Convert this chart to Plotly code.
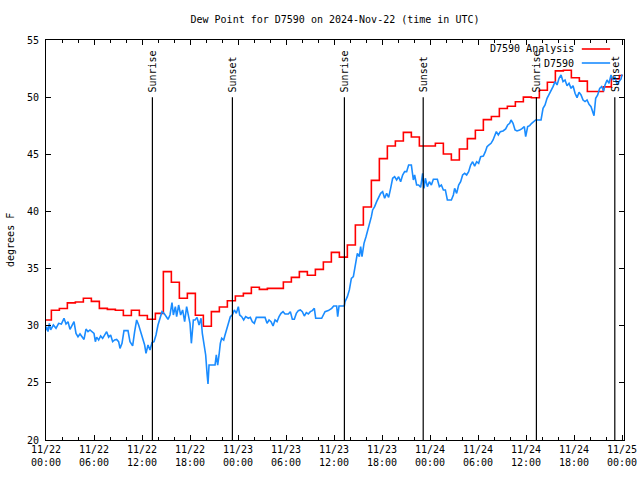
import pandas as pd
import plotly.graph_objects as go

START = pd.Timestamp("2024-11-22 00:00")

# ---- data ----
red_hours = [0.0] + [k + 0.67 for k in range(72)]
red_values = [30.5, 31.35, 31.5, 32.0, 32.07, 32.4, 32.13, 31.52, 31.43, 31.35,
              30.9, 31.35, 30.9, 30.56, 31.08, 34.73, 33.8, 32.4, 32.83, 30.91,
              29.95, 31.23, 31.64, 32.19, 32.6, 32.83, 33.36, 33.18, 33.27, 33.27,
              33.82, 34.23, 34.73, 34.41, 34.93, 35.57, 36.42, 36.0, 37.06, 38.81,
              40.39, 42.72, 44.62, 45.72, 46.16, 46.92, 46.51, 45.72, 45.72, 45.96,
              45.03, 44.5, 45.46, 46.37, 47.1, 48.03, 48.3, 49.0, 49.2, 49.6,
              50.0, 49.95, 50.6, 51.3, 52.3, 52.35, 51.7, 51.4, 50.5, 50.5,
              50.9, 51.6, 51.9]
red_end_hour = 72.1

blue_hours = [0.0, 0.08, 0.25, 0.42, 0.58, 0.92, 1.25, 1.58, 1.92, 2.25, 2.5, 2.75, 3.0, 3.25, 3.5,
              3.75, 4.0, 4.25, 4.5, 4.75, 5.0, 5.25, 5.5, 5.75, 6.0, 6.17, 6.33, 6.58, 6.83,
              7.08, 7.33, 7.58, 7.83, 8.08, 8.33, 8.58, 8.83, 9.08, 9.25, 9.5, 9.75, 10.25,
              10.5, 10.83, 11.08, 11.33, 11.58, 11.83, 12.08, 12.33, 12.5, 12.75, 13.0, 13.25,
              13.5, 13.75, 14.0, 14.25, 14.5, 14.75, 15.0, 15.25, 15.5, 15.75, 15.92, 16.17,
              16.33, 16.58, 16.83, 17.08, 17.33, 17.58, 17.83, 18.0, 18.17, 18.42, 18.63,
              18.88, 19.13, 19.38, 19.54, 19.79, 19.96, 20.13, 20.25, 20.38, 20.71, 21.13,
              21.29, 21.46, 21.63, 21.79, 21.96, 22.21, 22.38, 22.63, 22.79, 23.04, 23.29,
              23.54, 23.79, 24.04, 24.21, 24.46, 24.71, 24.96, 25.29, 25.54, 25.79, 26.04,
              26.29, 26.96, 27.38, 27.63, 27.88, 28.13, 28.38, 28.63, 28.88, 29.13, 29.38,
              29.63, 29.88, 30.29, 30.54, 30.79, 31.04, 31.29, 31.54, 31.79, 32.04, 32.29,
              32.54, 32.79, 33.04, 33.29, 33.54, 33.71, 34.04, 34.46, 34.88, 35.29, 35.71,
              35.96, 36.33, 36.46, 36.63, 36.96, 37.29, 37.38, 37.67, 37.92, 38.17, 38.42,
              38.67, 38.92, 39.17, 39.33, 39.5, 39.75, 40.0, 40.25, 40.42, 40.67, 40.83,
              41.08, 41.33, 41.58, 41.83, 42.08, 42.33, 42.58, 42.83, 43.08, 43.33, 43.58,
              43.83, 44.08, 44.33, 44.58, 44.83, 45.08, 45.33, 45.67, 45.92, 46.08, 46.33,
              46.58, 46.83, 47.08, 47.25, 47.42, 47.67, 47.92, 48.17, 48.42, 48.92, 49.17,
              49.42, 49.67, 49.92, 50.17, 50.67, 50.92, 51.08, 51.33, 51.58, 51.83, 52.08,
              52.33, 52.58, 52.83, 53.08, 53.33, 53.58, 53.83, 54.08, 54.33, 54.67, 54.92,
              55.13, 55.38, 55.63, 55.88, 56.13, 56.29, 56.54, 56.79, 57.13, 57.46, 57.71,
              57.96, 58.13, 58.38, 58.63, 58.88, 59.21, 59.46, 59.79, 59.96, 60.21, 60.46,
              60.71, 60.96, 61.21, 61.54, 61.88, 62.13, 62.38, 62.63, 62.88, 63.13, 63.38,
              63.63, 63.88, 64.13, 64.38, 64.63, 64.88, 65.13, 65.38, 65.63, 65.88, 66.13,
              66.38, 66.63, 66.88, 67.13, 67.38, 67.63, 67.88, 68.13, 68.29, 68.5, 68.71,
              68.96, 69.21, 69.46, 69.71, 69.88, 70.13, 70.38, 70.63, 70.88, 71.13, 71.38,
              71.63, 71.88, 72.0]
blue_values = [29.6, 29.92, 29.48, 30.21, 29.63, 30.06, 29.77, 30.21, 30.15, 30.65, 30.15, 30.35, 29.68, 30.06, 30.35,
               29.33, 29.04, 29.28, 29.0, 28.8, 29.71, 29.48, 29.63, 29.48, 29.33, 28.6, 29.0, 28.75, 29.1,
               28.9, 29.19, 29.48, 29.0, 29.19, 28.6, 28.75, 28.8, 28.6, 28.02, 28.46, 29.57, 29.57,
               28.6, 28.23, 29.48, 30.5, 30.06, 29.48, 28.75, 28.31, 27.58, 28.31, 27.87, 28.52,
               28.6, 29.19, 30.06, 30.65, 31.23, 31.08, 30.79, 30.56, 30.94, 32.02, 30.94, 31.67,
               30.79, 31.81, 30.94, 31.38, 30.35, 31.67, 30.79, 30.21, 28.46, 30.5, 30.5,
               30.73, 30.06, 30.65, 29.33, 28.02, 27.44, 25.83, 24.9, 26.56, 26.56, 26.56,
               27.44, 26.56, 27.44, 28.46, 28.9, 28.75, 29.19, 29.77, 30.06, 30.79, 30.94,
               31.38, 31.08, 31.67, 30.94, 30.79, 30.5, 30.79, 30.65, 30.73, 30.35, 30.21,
               30.73, 30.73, 30.73, 30.21, 30.5, 30.35, 29.98, 30.5, 30.35, 30.79, 31.08,
               31.23, 31.03, 31.03, 31.23, 30.56, 30.56, 31.08, 31.32, 31.38, 31.23, 30.85,
               31.14, 31.03, 31.23, 31.32, 31.52, 30.65, 30.65, 30.65, 31.23, 31.32, 31.52,
               31.73, 31.73, 30.79, 31.73, 31.73, 31.73, 32.1, 32.54, 33.13, 34.14, 34.29,
               35.46, 36.33, 36.04, 36.92, 36.04, 37.21, 37.79, 38.37, 38.96, 39.54, 40.13,
               40.42, 40.86, 41.29, 41.58, 41.73, 41.15, 41.58, 41.23, 42.02, 42.9, 43.04,
               42.75, 43.04, 42.6, 43.19, 43.48, 43.48, 44.06, 44.06, 42.75, 43.19, 42.31,
               42.31, 42.11, 43.33, 42.02, 42.9, 42.17, 42.6, 42.31, 42.81, 42.81, 42.17,
               42.31, 41.88, 41.88, 41.0, 41.0, 41.44, 42.02, 41.58, 42.31, 42.6, 43.19,
               43.33, 43.19, 43.48, 44.06, 44.35, 43.97, 44.35, 44.21, 44.79, 44.85, 45.23,
               45.67, 45.82, 45.96, 46.25, 46.69, 46.98, 46.69, 46.98, 47.04, 47.22, 47.57,
               47.71, 48.0, 47.71, 47.13, 47.04, 47.13, 47.22, 47.42, 46.54, 47.42, 47.51,
               47.71, 47.86, 48.0, 48.0, 48.0, 49.02, 49.32, 49.9, 50.25, 50.48, 50.92,
               51.36, 51.07, 51.65, 51.94, 51.36, 51.5, 51.0, 51.21, 50.77, 51.0, 50.34,
               49.96, 50.42, 50.19, 49.75, 49.61, 49.75, 49.37, 49.17, 48.88, 48.38, 49.9,
               50.19, 50.77, 50.92, 50.54, 51.07, 51.5, 51.21, 51.94, 51.5, 51.79, 51.07,
               51.36, 51.6, 52.0]

sunrise_hours = [13.3, 37.3, 61.3]
sunset_hours = [23.3, 47.15, 71.1]

tick_hours = list(range(0, 73, 6))
tick_text = ["11/22<br>00:00", "11/22<br>06:00", "11/22<br>12:00", "11/22<br>18:00",
             "11/23<br>00:00", "11/23<br>06:00", "11/23<br>12:00", "11/23<br>18:00",
             "11/24<br>00:00", "11/24<br>06:00", "11/24<br>12:00", "11/24<br>18:00",
             "11/25<br>00:00"]
y_ticks = [20, 25, 30, 35, 40, 45, 50, 55]

TITLE = "Dew Point for D7590 on 2024-Nov-22 (time in UTC)"
RED = "#ff0000"
BLUE = "#1a8cff"
FONT = "DejaVu Sans Mono"
FS = 10


def t(h):
    return START + pd.to_timedelta(h, unit="h")


red_x = [t(h) for h in red_hours] + [t(red_end_hour)]
red_y = red_values + [red_values[-1]]
blue_x = [t(h) for h in blue_hours]

fig = go.Figure()
fig.add_trace(go.Scatter(x=red_x, y=red_y, mode="lines", line=dict(color=RED, width=1.6, shape="hv"),
                         name="D7590 Analysis", showlegend=False))
fig.add_trace(go.Scatter(x=blue_x, y=blue_values, mode="lines", line=dict(color=BLUE, width=1.6),
                         name="D7590", showlegend=False))

shapes = []
annotations = []
for label, hours in (("Sunrise", sunrise_hours), ("Sunset", sunset_hours)):
    for h in hours:
        shapes.append(dict(type="line", xref="x", yref="y", x0=t(h), x1=t(h), y0=20, y1=50,
                           line=dict(color="black", width=1.2)))
        annotations.append(dict(x=t(h), y=50, xref="x", yref="y", text=label, textangle=-90,
                                showarrow=False, xanchor="center", yanchor="bottom", yshift=3,
                                font=dict(family=FONT, size=FS, color="black")))

# legend (text left of sample, as in the reference)
for name, color, ypos in (("D7590 Analysis", RED, 0.9775), ("D7590", BLUE, 0.9425)):
    annotations.append(dict(x=0.917, y=ypos, xref="paper", yref="paper", text=name, showarrow=False,
                            xanchor="right", yanchor="middle",
                            font=dict(family=FONT, size=FS, color="black")))
    shapes.append(dict(type="line", xref="paper", yref="paper", x0=0.927, x1=0.976, y0=ypos, y1=ypos,
                       line=dict(color=color, width=1.6)))

annotations.append(dict(x=-0.0623, y=0.5, xref="paper", yref="paper", text="degrees F", textangle=-90,
                        showarrow=False, xanchor="center", yanchor="middle",
                        font=dict(family=FONT, size=FS, color="black")))

fig.update_layout(
    width=640, height=480,
    margin=dict(l=46, r=16, t=40, b=40, autoexpand=False),
    paper_bgcolor="white", plot_bgcolor="white",
    title=dict(text=TITLE, x=0.5, xref="paper", y=1 - 19 / 480, yref="container",
               xanchor="center", yanchor="middle", font=dict(family=FONT, size=FS, color="black")),
    font=dict(family=FONT, size=FS, color="black"),
    shapes=shapes, annotations=annotations,
    showlegend=False,
)
fig.update_xaxes(type="date", range=[t(0), t(72.25)], tickvals=[t(h) for h in tick_hours],
                 ticktext=tick_text, ticks="inside", ticklen=5, tickcolor="black",
                 showline=True, linecolor="black", linewidth=1, mirror="ticks", showgrid=False,
                 zeroline=False, automargin=False, tickfont=dict(family=FONT, size=FS),
                 minor=dict(dtick=2 * 3600 * 1000, tick0=t(0), ticks="inside", ticklen=3,
                            tickcolor="black", showgrid=False))
fig.update_yaxes(range=[20, 55], tickvals=y_ticks, ticks="inside", ticklen=5, tickcolor="black",
                 showline=True, linecolor="black", linewidth=1, mirror="ticks", showgrid=False,
                 zeroline=False, automargin=False, tickfont=dict(family=FONT, size=FS),
                 ticklabelstandoff=4)

fig.write_html("out.html", config={"displayModeBar": False},
               post_script="document.body.style.margin='0';document.body.style.padding='0';")
